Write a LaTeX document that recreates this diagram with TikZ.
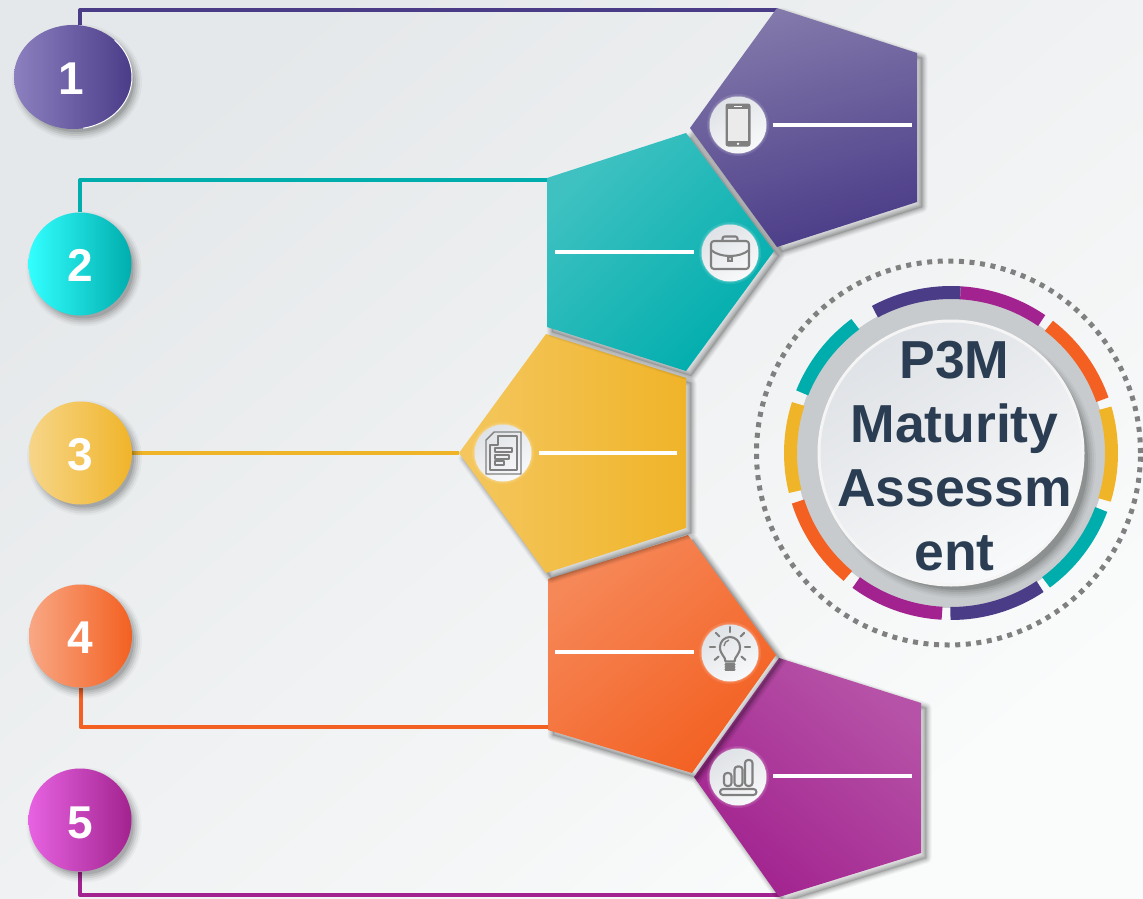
\documentclass[tikz,border=0pt]{standalone}
\usepackage{fontspec}
\setmainfont{Liberation Sans}
\usetikzlibrary{shapes.geometric,calc}
\definecolor{cpurple}{HTML}{4B3C88}
\definecolor{cpurplel}{HTML}{8C80C0}
\definecolor{cpurplet}{HTML}{8379AB}
\definecolor{cteal}{HTML}{00ADAD}
\definecolor{cyellow}{HTML}{F0B429}
\definecolor{corange}{HTML}{F36021}
\definecolor{cmagenta}{HTML}{A2238F}
\definecolor{ctext}{HTML}{2B3D52}
\definecolor{cicon}{HTML}{808080}
\definecolor{bgdark}{HTML}{E5E8EA}
\definecolor{bglight}{HTML}{FAFBFB}
\definecolor{ringgray}{HTML}{C8CBCE}
\definecolor{discdark}{HTML}{DFE2E6}
\definecolor{disclight}{HTML}{F8F9FA}
\tikzset{
  conn/.style={line width=4pt,line join=round},
  wline/.style={white,line width=3.4pt},
  num/.style={ellipse,minimum width=103pt,minimum height=103pt,inner sep=0pt},
  iconbg/.style={circle,minimum size=57pt,inner sep=0pt,top color=discdark,bottom color=disclight,shading angle=30},
  icn/.style={draw=cicon,line width=2.1pt,line join=round,line cap=round},
  icnthin/.style={draw=cicon,line width=1.4pt,line join=round},
  seg/.style={line width=13pt},
}
% soft shadow of a closed path, falling to the lower right
\newcommand{\softshadow}[1]{%
  \foreach \w/\o in {11/.035,9/.04,7/.05,5/.06,3/.07,1/.08}{
    \path[draw=black,line join=round,line width=\w pt,draw opacity=\o,shift={(5,5)}] #1;
  }
  \path[fill=black,fill opacity=.10,shift={(5,5)}] #1;}
\newcommand{\ringseg}[3]{\draw[seg,#1] (#2:160.5) arc[start angle=#2,end angle=#3,radius=160.5];}
\begin{document}
\begin{tikzpicture}[x=1pt,y=-1pt]
\useasboundingbox (0,0) rectangle (1143,899);
\shade[top color=bgdark,bottom color=bglight,shading angle=40] (0,0) rectangle (1143,899);
\begin{scope}
\clip (0,0) rectangle (1143,899);

% coordinates
\coordinate (pA) at (777,10);
\coordinate (pB) at (547,180);
\coordinate (pC) at (459,453);
\coordinate (pD) at (549,727);
\coordinate (pE) at (780,895);

% anchors of the numbered discs
\path node[num,minimum width=118pt] (n1) at (73,77) {};
\path node[num] (n2) at (80,264) {};
\path node[num] (n3) at (80.5,453) {};
\path node[num] (n4) at (80.5,636) {};
\path node[num] (n5) at (80,820) {};

\coordinate (n1top) at ($(n1.north)+(7,0)$);
\draw[conn,cpurple] (n1top) |- (pA);
\draw[conn,cteal] (n2.north) |- (pB);
\draw[conn,cyellow] (n3.east) -- (pC);
\draw[conn,corange] (n4.south) |- (pD);
\draw[conn,cmagenta] (n5.south) |- (pE);

% numbered discs with shadows, on top of connectors
\foreach \cx/\cy/\rx/\ry/\cl/\cr/\t/\tx/\ty in {
  73/77/59/52/cpurplel/cpurple/1/71.5/79,
  80/264/51.5/51.5/cyan!80!white/cteal/2/80/265,
  80.5/453/51.5/51.5/cyellow!55!white/cyellow/3/80/455,
  80.5/636/51.5/51.5/corange!55!white/corange/4/80/638,
  80/820/51.5/51.5/cmagenta!40!magenta!65!white/cmagenta/5/80/823}{
  \foreach \g/\o in {6/.03,4/.05,2/.07,0/.08,-2/.10}{
    \fill[black,opacity=\o] (\cx+4,\cy+5) ellipse [x radius=\rx+\g,y radius=\ry+\g];}
  \shade[left color=\cl,right color=\cr] (\cx,\cy) ellipse [x radius=\rx,y radius=\ry];
  \node[font=\fontsize{46}{46}\selectfont\bfseries,text=white,inner sep=0pt] (t\t) at (\tx,\ty) {\t};
}
\draw[white,line width=1pt] (73,77) ++(-45:59 and 52) arc[start angle=-45,end angle=80,x radius=59,y radius=52];

% pentagons, bottom layers first
\softshadow{(779,658)--(921,703)--(921,853)--(779,897)--(694,777)--cycle}
\shade[top color=cmagenta!78!white,bottom color=cmagenta,shading angle=-40] (779,658)--(921,703)--(921,853)--(779,897)--(694,777)--cycle;

\softshadow{(548,579)--(688,535)--(776,655)--(692,773)--(548,730)--cycle}
\shade[top color=corange!75!white,bottom color=corange,shading angle=40] (548,579)--(688,535)--(776,655)--(692,773)--(548,730)--cycle;

\softshadow{(546,334)--(686,378)--(686,528)--(546,573)--(459,453)--cycle}
\shade[left color=cyellow!75!white,right color=cyellow] (546,334)--(686,378)--(686,528)--(546,573)--(459,453)--cycle;

\softshadow{(547,178)--(686,133)--(774,251)--(686,371)--(547,327)--cycle}
\shade[top color=cteal!75!white,bottom color=cteal,shading angle=45] (547,178)--(686,133)--(774,251)--(686,371)--(547,327)--cycle;

\softshadow{(777,8)--(917,53)--(917,202)--(777,247)--(690,128)--cycle}
\shade[top color=cpurplet,bottom color=cpurple,shading angle=15] (777,8)--(917,53)--(917,202)--(777,247)--(690,128)--cycle;

% white lines
\coordinate (a1) at (773,125); \coordinate (a2) at (912,125);
\coordinate (b1) at (555,252); \coordinate (b2) at (694,252);
\coordinate (c1) at (539,453); \coordinate (c2) at (677,453);
\coordinate (d1) at (555,652); \coordinate (d2) at (694,652);
\coordinate (e1) at (773,776); \coordinate (e2) at (912,776);
\draw[wline] (a1)--(a2); \draw[wline] (b1)--(b2); \draw[wline] (c1)--(c2); \draw[wline] (d1)--(d2); \draw[wline] (e1)--(e2);

% icon discs
\foreach \hx/\hy in {738/125,730/253,503/453,730/653,738/777}{
  \fill[white,opacity=.10] (\hx,\hy) circle (31pt);
  \fill[white,opacity=.15] (\hx,\hy) circle (29.5pt);}
\node[iconbg] (ia) at (738,125) {};
\node[iconbg] (ib) at (730,253) {};
\node[iconbg] (ic) at (503,453) {};
\node[iconbg] (id) at (730,653) {};
\node[iconbg] (ie) at (738,777) {};

% phone
\begin{scope}[shift={(ia.center)}]
  \fill[cicon,rounded corners=2.5pt] (-12.5,-21.5) rectangle (12.5,21.5);
  \fill[black!8!white] (-10,-16) rectangle (10,16);
  \draw[white,line width=.8pt] (-4,-19)--(4,-19);
  \fill[white] (0,18.8) circle (1.3pt);
\end{scope}
% briefcase
\begin{scope}[shift={(ib.center)}]
  \draw[icn,rounded corners=3pt] (-19,-12) rectangle (19,16);
  \draw[icn,rounded corners=2pt] (-7.5,-12)--(-7.5,-16.5)--(7.5,-16.5)--(7.5,-12);
  \draw[icnthin] (-5,-12.5)--(5,-12.5);
  \draw[icn] (-19,-3) .. controls (-10,5) and (10,5) .. (19,-3);
  \fill[cicon] (-3,3) rectangle (3,9);
  \fill[black!6!white] (0,6) circle (1pt);
\end{scope}
% document
\begin{scope}[shift={(ic.center)}]
  \draw[icnthin] (-9,-21)--(18,-21)--(18,21)--(-17,21)--(-17,-13)--cycle;
  \draw[icnthin] (-5,-17)--(14,-17)--(14,17)--(-13,17)--(-13,-8)--(-5,-8)--cycle;
  \draw[icnthin] (-8,-5) rectangle (9,-1);
  \draw[icnthin] (-8,2) rectangle (6,6);
  \draw[icnthin] (-8,8) rectangle (1,12);
\end{scope}
% bulb
\begin{scope}[shift={(id.center)},y=1pt]
  \draw[icn] (-4.5,-8.5) .. controls (-4.5,-3) and (-10,-2) .. (-10,6) arc[start angle=180,end angle=0,radius=10] .. controls (10,-2) and (4.5,-3) .. (4.5,-8.5)--cycle;
  \draw[icnthin] (-6,7) arc[start angle=180,end angle=100,radius=6];
  \foreach \yy in {-11.5,-14,-16.5}{\draw[icn] (-4.5,\yy)--(4.5,\yy);}
  \foreach \a in {180,135,90,45,0,-40,-140}{
    \draw[icn] ($(0,6)+(\a:15)$)--($(0,6)+(\a:20)$);}
\end{scope}
% bars
\begin{scope}[shift={(ie.center)}]
  \draw[icn,rounded corners=3pt] (-14,9)--(-14,-4)--(-6.5,-4)--(-6.5,9)--cycle;
  \draw[icn,rounded corners=3pt] (-3.5,9)--(-3.5,-10.5)--(4.5,-10.5)--(4.5,9)--cycle;
  \draw[icn,rounded corners=3pt] (7,9)--(7,-17)--(14.5,-17)--(14.5,9)--cycle;
  \draw[icn,rounded corners=3pt] (-18,12) rectangle (18.5,18);
\end{scope}

% centre emblem
\coordinate (cc) at (951,453);
\draw[cicon,line width=5pt,dash pattern=on 5pt off 5.6pt] (948.5,453) circle (192pt);
\fill[ringgray] (cc) circle (155pt);
\begin{scope}[shift={(cc)},y=1pt]
  \ringseg{cpurple}{86.6}{118.3}
  \ringseg{cmagenta}{86.6}{55.6}
  \ringseg{corange}{52.4}{19.4}
  \ringseg{cyellow}{16.2}{-17}
  \ringseg{cteal}{-20.6}{-53.7}
  \ringseg{cpurple}{-56.3}{-90.2}
  \ringseg{cmagenta}{-93.2}{-126.2}
  \ringseg{corange}{-130}{-162.4}
  \ringseg{cyellow}{-166.1}{-197.8}
  \ringseg{cteal}{158}{126.6}
\end{scope}
\begin{scope}
  \clip (cc) circle (155pt);
  \foreach \g/\o in {4/.03,2/.05,0/.06,-2/.08,-4/.10}{
    \fill[black,opacity=\o] (959,461) circle (133pt+\g pt);}
\end{scope}
\fill[white!96!black] (cc) circle (133.5pt);
\shade[top color=discdark,bottom color=disclight,shading angle=30] (cc) circle (130.5pt);
\node[align=center,text=ctext,font=\fontsize{53.5}{64}\selectfont\bfseries,inner sep=0pt] (title) at (954.5,456.5) {P3M\\Maturity\\Assessm\\ent};
\end{scope}
\end{tikzpicture}
\end{document}
